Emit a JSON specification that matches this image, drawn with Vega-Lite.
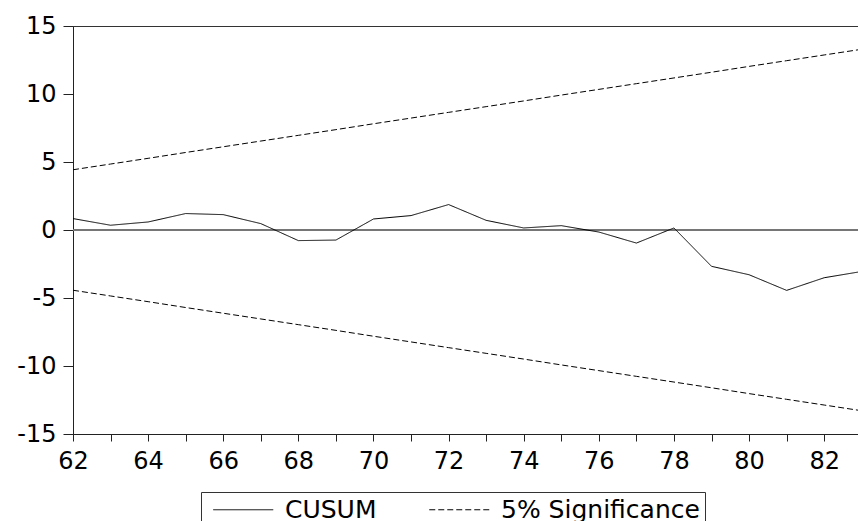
{
  "$schema": "https://vega.github.io/schema/vega-lite/v6.json",
  "width": 785,
  "height": 408,
  "autosize": {"type": "none"},
  "padding": {"left": 73, "top": 26, "right": 0, "bottom": 87},
  "background": "white",
  "config": {
    "view": {"stroke": "#333333", "strokeWidth": 1},
    "axis": {
      "domainColor": "#222222",
      "tickColor": "#222222",
      "labelColor": "black",
      "labelFont": "DejaVu Sans",
      "labelFontSize": 24,
      "grid": false,
      "title": null
    },
    "legend": {
      "labelFont": "DejaVu Sans",
      "labelFontSize": 25,
      "labelColor": "black"
    }
  },
  "data": {
    "values": [
      {"year": 62, "value": 0.84, "series": "CUSUM", "line": "cusum"},
      {"year": 63, "value": 0.35, "series": "CUSUM", "line": "cusum"},
      {"year": 64, "value": 0.59, "series": "CUSUM", "line": "cusum"},
      {"year": 65, "value": 1.21, "series": "CUSUM", "line": "cusum"},
      {"year": 66, "value": 1.13, "series": "CUSUM", "line": "cusum"},
      {"year": 67, "value": 0.47, "series": "CUSUM", "line": "cusum"},
      {"year": 68, "value": -0.78, "series": "CUSUM", "line": "cusum"},
      {"year": 69, "value": -0.74, "series": "CUSUM", "line": "cusum"},
      {"year": 70, "value": 0.81, "series": "CUSUM", "line": "cusum"},
      {"year": 71, "value": 1.06, "series": "CUSUM", "line": "cusum"},
      {"year": 72, "value": 1.87, "series": "CUSUM", "line": "cusum"},
      {"year": 73, "value": 0.71, "series": "CUSUM", "line": "cusum"},
      {"year": 74, "value": 0.15, "series": "CUSUM", "line": "cusum"},
      {"year": 75, "value": 0.32, "series": "CUSUM", "line": "cusum"},
      {"year": 76, "value": -0.15, "series": "CUSUM", "line": "cusum"},
      {"year": 77, "value": -0.96, "series": "CUSUM", "line": "cusum"},
      {"year": 78, "value": 0.15, "series": "CUSUM", "line": "cusum"},
      {"year": 79, "value": -2.67, "series": "CUSUM", "line": "cusum"},
      {"year": 80, "value": -3.29, "series": "CUSUM", "line": "cusum"},
      {"year": 81, "value": -4.44, "series": "CUSUM", "line": "cusum"},
      {"year": 82, "value": -3.51, "series": "CUSUM", "line": "cusum"},
      {"year": 83, "value": -3.05, "series": "CUSUM", "line": "cusum"},
      {"year": 62, "value": 4.43, "series": "5% Significance", "line": "upper"},
      {"year": 63, "value": 4.85, "series": "5% Significance", "line": "upper"},
      {"year": 64, "value": 5.27, "series": "5% Significance", "line": "upper"},
      {"year": 65, "value": 5.70, "series": "5% Significance", "line": "upper"},
      {"year": 66, "value": 6.12, "series": "5% Significance", "line": "upper"},
      {"year": 67, "value": 6.54, "series": "5% Significance", "line": "upper"},
      {"year": 68, "value": 6.96, "series": "5% Significance", "line": "upper"},
      {"year": 69, "value": 7.38, "series": "5% Significance", "line": "upper"},
      {"year": 70, "value": 7.81, "series": "5% Significance", "line": "upper"},
      {"year": 71, "value": 8.23, "series": "5% Significance", "line": "upper"},
      {"year": 72, "value": 8.65, "series": "5% Significance", "line": "upper"},
      {"year": 73, "value": 9.07, "series": "5% Significance", "line": "upper"},
      {"year": 74, "value": 9.49, "series": "5% Significance", "line": "upper"},
      {"year": 75, "value": 9.92, "series": "5% Significance", "line": "upper"},
      {"year": 76, "value": 10.34, "series": "5% Significance", "line": "upper"},
      {"year": 77, "value": 10.76, "series": "5% Significance", "line": "upper"},
      {"year": 78, "value": 11.18, "series": "5% Significance", "line": "upper"},
      {"year": 79, "value": 11.60, "series": "5% Significance", "line": "upper"},
      {"year": 80, "value": 12.03, "series": "5% Significance", "line": "upper"},
      {"year": 81, "value": 12.45, "series": "5% Significance", "line": "upper"},
      {"year": 82, "value": 12.87, "series": "5% Significance", "line": "upper"},
      {"year": 83, "value": 13.29, "series": "5% Significance", "line": "upper"},
      {"year": 62, "value": -4.43, "series": "5% Significance", "line": "lower"},
      {"year": 63, "value": -4.85, "series": "5% Significance", "line": "lower"},
      {"year": 64, "value": -5.27, "series": "5% Significance", "line": "lower"},
      {"year": 65, "value": -5.70, "series": "5% Significance", "line": "lower"},
      {"year": 66, "value": -6.12, "series": "5% Significance", "line": "lower"},
      {"year": 67, "value": -6.54, "series": "5% Significance", "line": "lower"},
      {"year": 68, "value": -6.96, "series": "5% Significance", "line": "lower"},
      {"year": 69, "value": -7.38, "series": "5% Significance", "line": "lower"},
      {"year": 70, "value": -7.81, "series": "5% Significance", "line": "lower"},
      {"year": 71, "value": -8.23, "series": "5% Significance", "line": "lower"},
      {"year": 72, "value": -8.65, "series": "5% Significance", "line": "lower"},
      {"year": 73, "value": -9.07, "series": "5% Significance", "line": "lower"},
      {"year": 74, "value": -9.49, "series": "5% Significance", "line": "lower"},
      {"year": 75, "value": -9.92, "series": "5% Significance", "line": "lower"},
      {"year": 76, "value": -10.34, "series": "5% Significance", "line": "lower"},
      {"year": 77, "value": -10.76, "series": "5% Significance", "line": "lower"},
      {"year": 78, "value": -11.18, "series": "5% Significance", "line": "lower"},
      {"year": 79, "value": -11.60, "series": "5% Significance", "line": "lower"},
      {"year": 80, "value": -12.03, "series": "5% Significance", "line": "lower"},
      {"year": 81, "value": -12.45, "series": "5% Significance", "line": "lower"},
      {"year": 82, "value": -12.87, "series": "5% Significance", "line": "lower"},
      {"year": 83, "value": -13.29, "series": "5% Significance", "line": "lower"}
    ]
  },
  "layer": [
    {
      "mark": {"type": "rule", "color": "#777777", "strokeWidth": 1},
      "encoding": {"y": {"datum": 0, "type": "quantitative"}}
    },
    {
      "mark": {"type": "line", "color": "black", "strokeWidth": 1, "clip": true},
      "encoding": {
        "x": {
          "field": "year",
          "type": "quantitative",
          "scale": {"domain": [62, 82.9], "nice": false, "zero": false},
          "axis": {
            "values": [62, 63, 64, 65, 66, 67, 68, 69, 70, 71, 72, 73, 74, 75, 76, 77, 78, 79, 80, 81, 82],
            "labelExpr": "datum.value % 2 == 0 ? '' + datum.value : ''",
            "labelOverlap": false,
            "labelFlush": false,
            "tickSize": 7,
            "labelPadding": 8
          }
        },
        "y": {
          "field": "value",
          "type": "quantitative",
          "scale": {"domain": [-15, 15], "nice": false},
          "axis": {
            "values": [-15, -10, -5, 0, 5, 10, 15],
            "labelExpr": "datum.value < 0 ? '-' + abs(datum.value) : '' + datum.value",
            "tickSize": 10,
            "labelPadding": 7,
            "labelFlush": false
          }
        },
        "detail": {"field": "line"},
        "strokeDash": {
          "field": "series",
          "type": "nominal",
          "scale": {"domain": ["CUSUM", "5% Significance"], "range": [[1, 0], [6, 3]]},
          "legend": {
            "title": null,
            "orient": "none",
            "legendX": 128,
            "legendY": 466,
            "direction": "horizontal",
            "columns": 2,
            "strokeColor": "#333333",
            "padding": 5,
            "symbolType": "M-0.7,0H7.3",
            "symbolSize": 225,
            "symbolStrokeWidth": 1,
            "symbolStrokeColor": "black",
            "symbolFillColor": "transparent",
            "labelOffset": 54,
            "columnPadding": 45,
            "labelLimit": 400
          }
        }
      }
    }
  ]
}
